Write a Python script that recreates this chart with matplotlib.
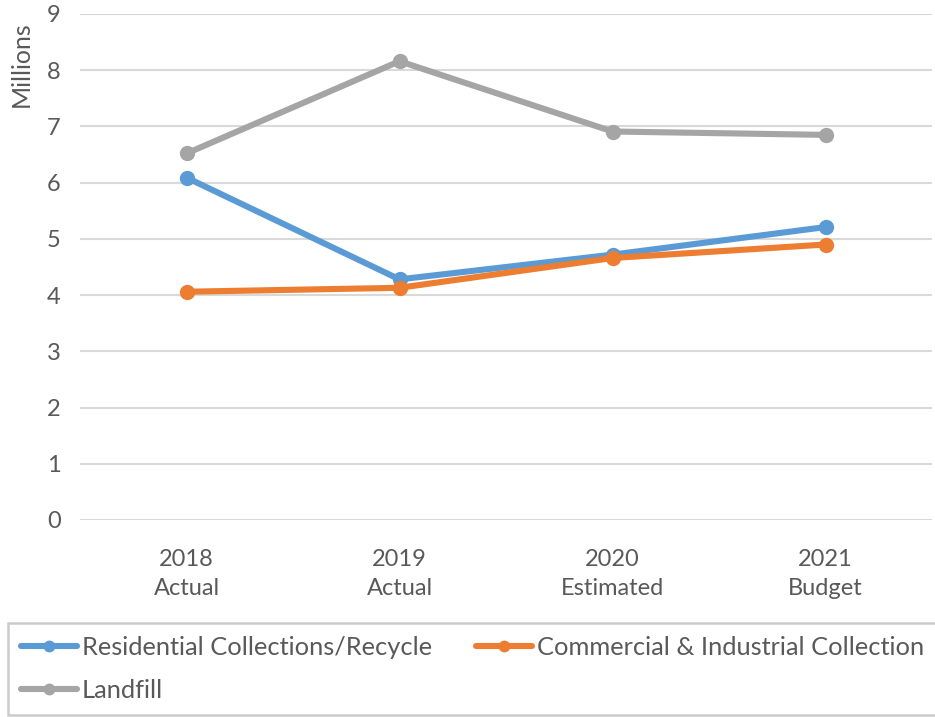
import matplotlib
matplotlib.use("Agg")
import matplotlib.pyplot as plt
import numpy as np

plt.rcParams['font.family'] = ['Lato', 'DejaVu Sans']

categories = ['2018\nActual', '2019\nActual', '2020\nEstimated', '2021\nBudget']
residential = [6.09, 4.28, 4.72, 5.21]
commercial = [4.06, 4.13, 4.66, 4.90]
landfill = [6.52, 8.16, 6.91, 6.85]

series_names = ['Residential Collections/Recycle',
                'Commercial & Industrial Collection',
                'Landfill']
colors = ['#5B9BD5', '#ED7D31', '#A5A5A5']

fig = plt.figure(figsize=(9.35, 7.17), dpi=100, facecolor='w')
ax = fig.add_axes([80 / 935, 1 - 520 / 717, 852 / 935, 506 / 717])

x = np.arange(len(categories))
lines = []
for vals, name, c in zip([residential, commercial, landfill], series_names, colors):
    ln, = ax.plot(x, vals, color=c, lw=4.4, marker='o', ms=10,
                  solid_capstyle='round', label=name)
    lines.append(ln)

ax.set_xlim(-0.5, 3.5)
ax.set_ylim(0, 9)
ax.set_yticks(range(10))
ax.set_xticks(x)
ax.set_xticklabels(categories, linespacing=1.45)
ax.grid(axis='y', color='#D9D9D9', lw=1.5)
ax.set_axisbelow(True)
for s in ax.spines.values():
    s.set_visible(False)
ax.tick_params(length=0, labelsize=17, colors='#595959')
ax.tick_params(axis='y', pad=14)
ax.tick_params(axis='x', pad=21)
ax.set_ylabel('Millions', fontsize=18, color='#595959')
ax.yaxis.set_label_coords(-47 / 852, 0.90)

# column-major fill: first column holds Residential and Landfill
leg = fig.legend(handles=[lines[0], lines[2], lines[1]], ncol=2,
                 loc='upper left', bbox_to_anchor=(8 / 935, 1 - 623 / 717),
                 fontsize=18.3, frameon=True, fancybox=False,
                 edgecolor='#BFBFBF', handlelength=2.2, handletextpad=0.2,
                 columnspacing=1.75, labelcolor='#595959', markerscale=0.75,
                 borderpad=0.5, borderaxespad=0, labelspacing=0.8)
leg.get_frame().set_linewidth(1.8)

plt.savefig('out.png', dpi=100)
